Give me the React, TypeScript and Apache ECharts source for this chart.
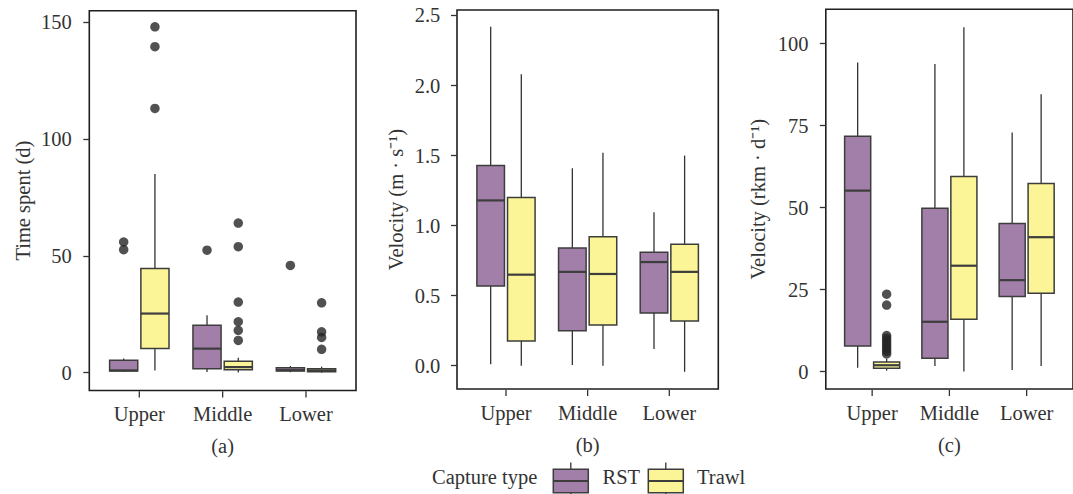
import React, { useEffect, useRef } from "react";
import * as echarts from "echarts";

const categories = ["Upper", "Middle", "Lower"];
const captureTypes = ["RST", "Trawl"];
const panelLabels = ["(a)", "(b)", "(c)"];
const yTitles = ["Time spent (d)", "Velocity (m · s⁻¹)", "Velocity (rkm · d⁻¹)"];

// [lower whisker, q1, median, q3, upper whisker] per category
const timeRST = [[0.3, 0.7, 1.0, 5.3, 6.1], [0.3, 1.7, 10.3, 20.3, 24.6], [0.2, 0.7, 1.1, 2.1, 2.9]];
const timeTrawl = [[0.9, 10.4, 25.3, 44.6, 85.0], [0.1, 1.3, 2.4, 4.9, 6.4], [0.0, 0.4, 1.0, 1.7, 2.6]];
const timeRSTOutliers = [[55.9, 52.6], [52.4], [45.9]];
const timeTrawlOutliers = [[147.9, 139.4, 113.0], [64.0, 53.9, 30.2, 21.8, 18.1, 13.8], [29.9, 17.5, 15.1, 10.0]];

const velRST = [[0.01, 0.57, 1.18, 1.43, 2.42], [0.005, 0.25, 0.67, 0.84, 1.41], [0.12, 0.376, 0.74, 0.81, 1.095]];
const velTrawl = [[0.0, 0.176, 0.65, 1.2, 2.08], [0.0, 0.29, 0.655, 0.92, 1.52], [-0.043, 0.32, 0.67, 0.867, 1.5]];
const velRSTOutliers: number[][] = [[], [], []];
const velTrawlOutliers: number[][] = [[], [], []];

const rkmRST = [[1.2, 7.8, 55.2, 71.8, 94.3], [1.7, 4.1, 15.2, 49.8, 93.8], [0.5, 22.9, 27.9, 45.2, 72.9]];
const rkmTrawl = [[0.3, 1.0, 1.95, 2.9, 3.9], [0.0, 16.0, 32.3, 59.5, 105.0], [1.7, 23.9, 41.0, 57.4, 84.6]];
const rkmRSTOutliers: number[][] = [[], [], []];
const rkmTrawlOutliers = [[23.6, 20.3, 11.0, 10.2, 9.4, 8.6, 7.8, 7.0, 6.2, 5.4], [], []];

const yTicksTime = [0, 50, 100, 150];
const yTicksVel = [0, 0.5, 1.0, 1.5, 2.0, 2.5];
const yTicksRkm = [0, 25, 50, 75, 100];

const FONT = "Liberation Serif";
const TXT = "#333";
const FS = 20.5;
const COLORS = ["#A27FA9", "#FBF597"];
const EDGE = "#3d3d3d";
const FRAME = "#1e1e1e";
const DODGE = 0.1875;
const BOXW = 0.3375;

const panels = [
  { rst: timeRST, trawl: timeTrawl, rstOut: timeRSTOutliers, trawlOut: timeTrawlOutliers, ticks: yTicksTime, dec: 0, min: -7.6, max: 154.8, grid: { left: 89.3, top: 10.7, width: 266.7, height: 379.8 }, nameGap: 56, labelMargin: 17.5 },
  { rst: velRST, trawl: velTrawl, rstOut: velRSTOutliers, trawlOut: velTrawlOutliers, ticks: yTicksVel, dec: 1, min: -0.166, max: 2.539, grid: { left: 457, top: 10, width: 261.3, height: 379 }, nameGap: 51, labelMargin: 16.7 },
  { rst: rkmRST, trawl: rkmTrawl, rstOut: rkmRSTOutliers, trawlOut: rkmTrawlOutliers, ticks: yTicksRkm, dec: 0, min: -5.3, max: 110.5, grid: { left: 825.8, top: 9.3, width: 255.5, height: 379.7 }, nameGap: 57, labelMargin: 17.4 },
];

// box + whisker + median; the first capture type also draws the category tick under the frame
function boxRender(color: string, offset: number, drawTick: boolean) {
  return (params: any, api: any) => {
    const x = api.value(0);
    const pLow = api.coord([x, api.value(1)]);
    const pQ1 = api.coord([x, api.value(2)]);
    const pMed = api.coord([x, api.value(3)]);
    const pQ3 = api.coord([x, api.value(4)]);
    const pHigh = api.coord([x, api.value(5)]);
    const half = api.size([BOXW, 0])[0] / 2;
    const px = pMed[0];
    const children: any[] = [
      { type: "line", shape: { x1: px, y1: pHigh[1], x2: px, y2: pLow[1] }, style: { stroke: "#333", lineWidth: 1.3 } },
      { type: "rect", shape: { x: px - half, y: pQ3[1], width: 2 * half, height: pQ1[1] - pQ3[1] }, style: { fill: color, stroke: EDGE, lineWidth: 1.5 } },
      { type: "line", shape: { x1: px - half, y1: pMed[1], x2: px + half, y2: pMed[1] }, style: { stroke: EDGE, lineWidth: 2.2 } },
    ];
    if (drawTick) {
      const cs = params.coordSys;
      const cx = api.coord([x - offset, api.value(3)])[0];
      const yb = cs.y + cs.height;
      children.push({ type: "rect", shape: { x: cx - 0.65, y: yb + 0.8, width: 1.3, height: 6.2 }, style: { fill: "#333" } });
    }
    return { type: "group", children };
  };
}

export default function App() {
  const ref = useRef<HTMLDivElement>(null);
  useEffect(() => {
    if (!ref.current) return;
    const chart = echarts.init(ref.current, null, { renderer: "svg" });
    const grids: any[] = [];
    const xAxes: any[] = [];
    const yAxes: any[] = [];
    const series: any[] = [];
    panels.forEach((p, i) => {
      grids.push({ ...p.grid, show: true, borderColor: FRAME, borderWidth: 1.6, backgroundColor: "transparent" });
      xAxes.push({
        gridIndex: i, type: "value", min: 0.4, max: 3.6, position: "bottom",
        axisLine: { show: false, onZero: false }, splitLine: { show: false },
        axisTick: { show: false },
        axisLabel: { customValues: [1, 2, 3], formatter: (v: number) => categories[Math.round(v) - 1], margin: 13, fontFamily: FONT, fontSize: FS, color: TXT },
        name: panelLabels[i], nameLocation: "middle", nameGap: 45,
        nameTextStyle: { fontFamily: FONT, fontSize: FS, color: TXT },
      });
      yAxes.push({
        gridIndex: i, type: "value", min: p.min, max: p.max, position: "left",
        axisLine: { show: false, onZero: false }, splitLine: { show: false },
        axisTick: { show: true, inside: false, customValues: p.ticks, length: 6, lineStyle: { color: "#333", width: 1.3 } },
        axisLabel: { customValues: p.ticks, formatter: (v: number) => v.toFixed(p.dec), margin: p.labelMargin, fontFamily: FONT, fontSize: FS, color: TXT },
        name: yTitles[i], nameLocation: "middle", nameGap: p.nameGap,
        nameTextStyle: { fontFamily: FONT, fontSize: FS, color: TXT },
      });
      [p.rst, p.trawl].forEach((stats, k) => {
        const off = k === 0 ? -DODGE : DODGE;
        series.push({
          type: "custom", name: captureTypes[k], xAxisIndex: i, yAxisIndex: i,
          renderItem: boxRender(COLORS[k], off, k === 0),
          encode: { x: 0, y: [1, 2, 3, 4, 5] },
          data: stats.map((s, c) => [c + 1 + off, ...s]),
          clip: false,
        });
      });
      [p.rstOut, p.trawlOut].forEach((outs, k) => {
        const off = k === 0 ? -DODGE : DODGE;
        const data: number[][] = [];
        outs.forEach((arr, c) => arr.forEach((v) => data.push([c + 1 + off, v])));
        series.push({
          type: "scatter", xAxisIndex: i, yAxisIndex: i, data,
          symbol: "circle", symbolSize: 9.5,
          itemStyle: { color: "#262626" },
        });
      });
    });

    const legendText = { fontFamily: FONT, fontSize: FS, fill: TXT };
    const keyX = [553.3, 648.3];
    const keyLabelX = [602.5, 697];
    const legendChildren: any[] = [
      { type: "text", left: 432, top: 466, style: { text: "Capture type", ...legendText } },
    ];
    captureTypes.forEach((name, k) => {
      const x = keyX[k];
      legendChildren.push(
        { type: "line", shape: { x1: x + 17.5, y1: 462.5, x2: x + 17.5, y2: 500 }, style: { stroke: "#333", lineWidth: 1.3 } },
        { type: "rect", shape: { x, y: 469.3, width: 35, height: 23.5 }, style: { fill: COLORS[k], stroke: EDGE, lineWidth: 1.5 } },
        { type: "line", shape: { x1: x, y1: 481, x2: x + 35, y2: 481 }, style: { stroke: EDGE, lineWidth: 2.2 } },
        { type: "text", left: keyLabelX[k], top: 466, style: { text: name, ...legendText } },
      );
    });

    chart.setOption({
      animation: false,
      backgroundColor: "#fff",
      grid: grids,
      xAxis: xAxes,
      yAxis: yAxes,
      series,
      graphic: legendChildren,
    });
    return () => chart.dispose();
  }, []);
  return <div ref={ref} style={{ position: "fixed", left: 0, top: 0, width: 1073, height: 494 }} />;
}
